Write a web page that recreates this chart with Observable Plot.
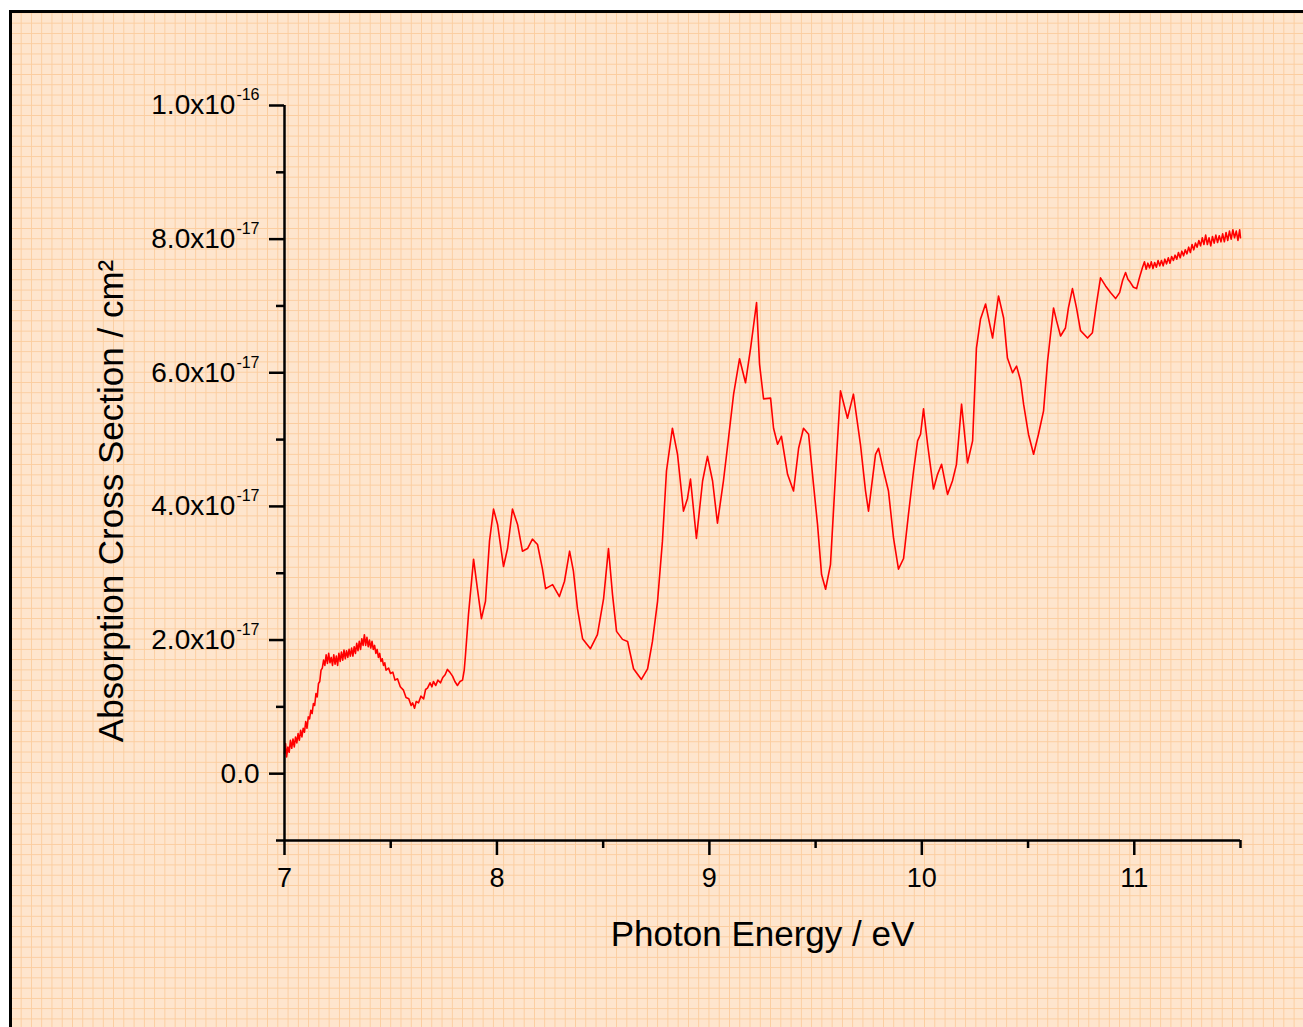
<!DOCTYPE html>
<html>
<head>
<meta charset="utf-8">
<script src="https://cdn.jsdelivr.net/npm/d3@7"></script>
<script src="https://cdn.jsdelivr.net/npm/@observablehq/plot@0.6"></script>
<style>
  html, body { margin: 0; padding: 0; background: #ffffff; }
  body { width: 1303px; height: 1027px; overflow: hidden; position: relative; }
  #paper {
    position: absolute; left: 9px; top: 10px; width: 1400px; height: 1100px;
    border-top: 3px solid #000; border-left: 3px solid #000;
    background-color: #fee5cd;
    background-image:
      linear-gradient(to right, #fbcd9f 1px, transparent 1px),
      linear-gradient(to bottom, #fbcd9f 1px, transparent 1px);
    background-size: 10.27px 10.27px;
    background-position: 8.7px 9.7px;
  }
  #chart { position: absolute; left: 0; top: 0; }
</style>
</head>
<body>
<div id="paper"></div>
<div id="chart"></div>
<script>
// ---- Data (photon energy in eV, absorption cross section in units of 1e-17 cm^2) ----
const energy = [
  7.000, 7.005, 7.010, 7.016, 7.022, 7.028, 7.034, 7.040, 7.046, 7.052, 7.058, 7.064, 7.070, 7.076, 7.082, 7.088,
  7.094, 7.100, 7.106, 7.112, 7.118, 7.124, 7.130, 7.136, 7.142, 7.148, 7.154, 7.160, 7.166, 7.172, 7.178, 7.184,
  7.190, 7.196, 7.202, 7.208, 7.214, 7.220, 7.226, 7.232, 7.238, 7.244, 7.250, 7.256, 7.262, 7.268, 7.274, 7.280,
  7.286, 7.292, 7.298, 7.304, 7.310, 7.316, 7.322, 7.328, 7.334, 7.340, 7.346, 7.352, 7.358, 7.364, 7.370, 7.376,
  7.382, 7.388, 7.394, 7.400, 7.406, 7.412, 7.418, 7.424, 7.430, 7.436, 7.442, 7.448, 7.454, 7.460, 7.466, 7.472,
  7.478, 7.490, 7.499, 7.510, 7.520, 7.532, 7.545, 7.560, 7.572, 7.585, 7.596, 7.603, 7.612, 7.620, 7.631, 7.642,
  7.655, 7.664, 7.673, 7.685, 7.694, 7.701, 7.712, 7.722, 7.734, 7.745, 7.756, 7.767, 7.778, 7.791, 7.802, 7.814,
  7.826, 7.838, 7.846, 7.852, 7.866, 7.890, 7.908, 7.927, 7.946, 7.965, 7.984, 8.003, 8.031, 8.050, 8.073, 8.097,
  8.120, 8.144, 8.167, 8.191, 8.214, 8.229, 8.262, 8.294, 8.318, 8.342, 8.360, 8.379, 8.403, 8.440, 8.473, 8.502,
  8.525, 8.544, 8.563, 8.591, 8.615, 8.643, 8.680, 8.709, 8.732, 8.756, 8.779, 8.798, 8.826, 8.850, 8.878, 8.897,
  8.911, 8.939, 8.968, 8.991, 9.015, 9.038, 9.066, 9.090, 9.114, 9.142, 9.170, 9.194, 9.222, 9.236, 9.255, 9.288,
  9.302, 9.321, 9.339, 9.368, 9.396, 9.420, 9.443, 9.467, 9.490, 9.509, 9.528, 9.547, 9.570, 9.598, 9.617, 9.650,
  9.678, 9.711, 9.735, 9.749, 9.782, 9.796, 9.820, 9.843, 9.867, 9.890, 9.914, 9.937, 9.961, 9.980, 9.994, 10.008,
  10.027, 10.055, 10.074, 10.093, 10.121, 10.144, 10.163, 10.187, 10.215, 10.239, 10.257, 10.276, 10.300, 10.333, 10.361, 10.385,
  10.403, 10.427, 10.446, 10.465, 10.479, 10.502, 10.526, 10.549, 10.573, 10.592, 10.620, 10.634, 10.653, 10.676, 10.690, 10.709,
  10.728, 10.747, 10.780, 10.803, 10.822, 10.841, 10.865, 10.888, 10.912, 10.931, 10.945, 10.959, 10.970, 10.982, 10.996, 11.011,
  11.024, 11.039, 11.048, 11.056, 11.064, 11.072, 11.080, 11.088, 11.096, 11.104, 11.112, 11.120, 11.128, 11.136, 11.144, 11.152,
  11.160, 11.168, 11.176, 11.184, 11.192, 11.200, 11.208, 11.216, 11.224, 11.232, 11.240, 11.248, 11.256, 11.264, 11.272, 11.280,
  11.288, 11.296, 11.304, 11.312, 11.320, 11.328, 11.336, 11.344, 11.352, 11.360, 11.368, 11.376, 11.384, 11.392, 11.400, 11.408,
  11.416, 11.424, 11.432, 11.440, 11.448, 11.456, 11.464, 11.472, 11.480, 11.488, 11.496, 11.500
];
const crossSection = [
  0.30, 0.45, 0.25, 0.40, 0.32, 0.50, 0.38, 0.52, 0.40, 0.55, 0.46, 0.60, 0.50, 0.65, 0.55, 0.68,
  0.62, 0.78, 0.68, 0.85, 0.82, 0.95, 0.90, 1.05, 1.02, 1.20, 1.15, 1.35, 1.38, 1.55, 1.58, 1.70,
  1.62, 1.78, 1.65, 1.80, 1.66, 1.74, 1.62, 1.78, 1.64, 1.76, 1.62, 1.80, 1.68, 1.82, 1.70, 1.85,
  1.72, 1.84, 1.74, 1.86, 1.76, 1.88, 1.76, 1.90, 1.80, 1.95, 1.84, 1.98, 1.86, 2.02, 1.92, 2.08,
  1.92, 2.04, 1.90, 2.00, 1.88, 1.98, 1.86, 1.92, 1.80, 1.86, 1.74, 1.80, 1.68, 1.72, 1.62, 1.66,
  1.55, 1.58, 1.50, 1.52, 1.40, 1.42, 1.30, 1.25, 1.14, 1.12, 1.02, 1.06, 0.98, 1.08, 1.06, 1.16,
  1.12, 1.26, 1.28, 1.36, 1.30, 1.38, 1.32, 1.40, 1.36, 1.44, 1.48, 1.56, 1.52, 1.46, 1.38, 1.32,
  1.38, 1.40, 1.55, 1.78, 2.38, 3.21, 2.77, 2.32, 2.58, 3.48, 3.96, 3.73, 3.10, 3.37, 3.96, 3.73,
  3.33, 3.37, 3.51, 3.43, 3.07, 2.77, 2.83, 2.65, 2.88, 3.33, 3.03, 2.47, 2.02, 1.87, 2.08, 2.62,
  3.37, 2.68, 2.13, 2.01, 1.98, 1.57, 1.41, 1.57, 1.98, 2.58, 3.48, 4.53, 5.17, 4.78, 3.93, 4.12,
  4.41, 3.52, 4.38, 4.75, 4.38, 3.75, 4.38, 5.02, 5.68, 6.21, 5.85, 6.37, 7.05, 6.13, 5.61, 5.62,
  5.17, 4.93, 5.05, 4.48, 4.23, 4.87, 5.17, 5.08, 4.33, 3.73, 2.98, 2.76, 3.13, 4.72, 5.73, 5.32,
  5.68, 4.93, 4.23, 3.93, 4.78, 4.87, 4.53, 4.23, 3.52, 3.06, 3.22, 3.88, 4.53, 4.98, 5.08, 5.46,
  4.93, 4.26, 4.48, 4.63, 4.18, 4.38, 4.63, 5.53, 4.65, 4.98, 6.37, 6.80, 7.03, 6.52, 7.15, 6.82,
  6.22, 6.00, 6.10, 5.88, 5.53, 5.08, 4.78, 5.08, 5.43, 6.18, 6.97, 6.78, 6.55, 6.67, 6.97, 7.26,
  6.97, 6.63, 6.52, 6.60, 7.03, 7.42, 7.30, 7.20, 7.11, 7.20, 7.38, 7.50, 7.40, 7.35, 7.28, 7.26,
  7.42, 7.58, 7.66, 7.55, 7.64, 7.57, 7.66, 7.56, 7.65, 7.58, 7.68, 7.60, 7.68, 7.60, 7.70, 7.63,
  7.72, 7.64, 7.74, 7.68, 7.76, 7.70, 7.80, 7.72, 7.82, 7.75, 7.84, 7.78, 7.88, 7.80, 7.92, 7.84,
  7.94, 7.88, 7.98, 7.90, 8.02, 7.92, 8.06, 7.92, 8.02, 7.90, 8.04, 7.94, 8.06, 7.95, 8.05, 7.96,
  8.08, 7.96, 8.10, 7.98, 8.12, 8.00, 8.14, 8.02, 8.12, 7.98, 8.14, 8.02
];

const xDomain = [7, 11.5];
const yDomain = [-1, 10];
const xTicks = [7, 8, 9, 10, 11];
const xTickLabels = ["7", "8", "9", "10", "11"];
const xMinorTicks = [7.5, 8.5, 9.5, 10.5, 11.5];
const yTicks = [0, 2, 4, 6, 8, 10];
const yTickLabels = ["0.0", "2.0x10^-17", "4.0x10^-17", "6.0x10^-17", "8.0x10^-17", "1.0x10^-16"];
const yMinorTicks = [-1, 1, 3, 5, 7, 9];
const xTitle = "Photon Energy / eV";
const yTitle = "Absorption Cross Section / cm²";

const data = energy.map((e, i) => ({e, s: crossSection[i]}));
const axisColor = "#000000";

const plot = Plot.plot({
  width: 1303,
  height: 1027,
  marginLeft: 284,
  marginRight: 63,
  marginTop: 105,
  marginBottom: 187,
  style: {background: "transparent", fontFamily: "'Liberation Sans', Arial, sans-serif", color: "#000", overflow: "visible"},
  x: {domain: xDomain},
  y: {domain: yDomain},
  marks: [
    Plot.line(data, {x: "e", y: "s", stroke: "#ff0000", strokeWidth: 1.6}),
    Plot.ruleY([yDomain[0]], {stroke: axisColor, strokeWidth: 2.5}),
    Plot.ruleX([xDomain[0]], {stroke: axisColor, strokeWidth: 2.5}),
    Plot.axisX(xMinorTicks, {tickSize: 8, tickFormat: () => "", strokeWidth: 2.5, stroke: axisColor, label: null}),
    Plot.axisX(xTicks, {tickSize: 15, tickPadding: 12, strokeWidth: 2.5, stroke: axisColor, label: null, fontSize: 27,
      tickFormat: d => xTickLabels[xTicks.indexOf(d)]}),
    Plot.axisY(yMinorTicks, {tickSize: 8, tickFormat: () => "", strokeWidth: 2.5, stroke: axisColor, label: null}),
    Plot.axisY(yTicks, {tickSize: 15, tickPadding: 10, strokeWidth: 2.5, stroke: axisColor, label: null, fontSize: 28,
      tickFormat: d => yTickLabels[yTicks.indexOf(d)]}),
    Plot.text([xTitle], {frameAnchor: "bottom", lineAnchor: "bottom", textAnchor: "middle", dy: 105, fontSize: 35, fill: "#000"}),
    Plot.text([yTitle], {frameAnchor: "left", lineAnchor: "bottom", textAnchor: "middle", rotate: -90, dx: -162, dy: 28, fontSize: 35, fill: "#000"})
  ]
});

// superscript exponents in y tick labels
d3.select(plot).selectAll('g[aria-label="y-axis tick label"] text').each(function() {
  const t = this.textContent;
  if (!t || t.indexOf("^") < 0) return;
  const [base, exp] = t.split("^");
  const sel = d3.select(this);
  sel.text(null);
  sel.append("tspan").text(base);
  sel.append("tspan").attr("dy", -14).attr("dx", 1).attr("font-size", 16).text(exp);
});

document.getElementById("chart").appendChild(plot);
</script>
</body>
</html>
